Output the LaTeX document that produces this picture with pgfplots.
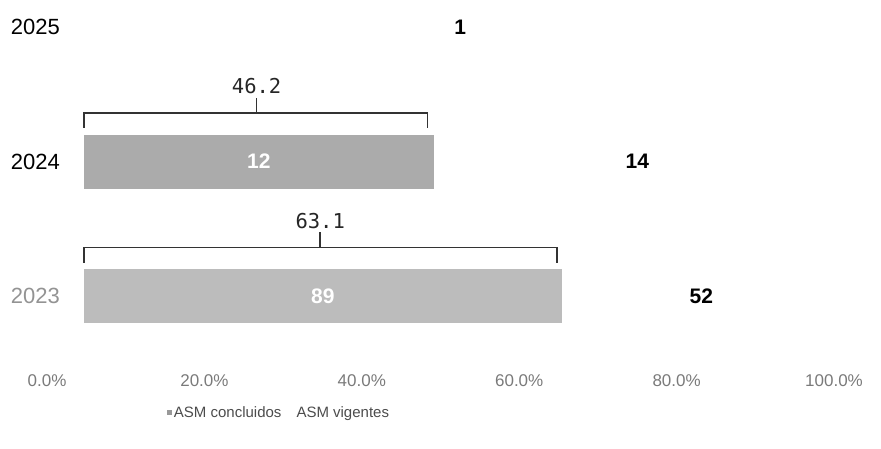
\documentclass[border=0pt]{standalone}
\usepackage{fontspec}
\setmainfont{Liberation Sans}
\newfontfamily\monofont{DejaVu Sans Mono}
\usepackage{pgfplots}
\pgfplotsset{compat=1.18}
\definecolor{barA}{HTML}{BCBCBC}
\definecolor{barB}{HTML}{ABABAB}
\definecolor{ticktext}{HTML}{7A7A7A}
\definecolor{brk}{HTML}{333333}
\begin{document}
\begin{tikzpicture}
\path[use as bounding box] (0,0) rectangle (881pt,-449pt);
\pgfplotsset{base/.style={scale only axis, width=757pt, height=363.15pt,
  at={(84pt,-363.25pt)}, anchor=south west, xmin=0, xmax=100, ymin=-0.5, ymax=2.2,
  axis line style={draw=none}, major tick length=0pt, clip=false}}
% bars
\begin{axis}[base, xbar stacked, bar width=54pt,
  xtick=\empty, ytick={0,1,2},
  yticklabels={{\textcolor{gray!85}{2023}},2024,2025},
  yticklabel style={anchor=east, inner sep=0pt, xshift=-24pt, font=\fontsize{22}{26}\selectfont},
  legend style={at={(0.2576,-0.137)}, anchor=center, draw=none, fill=none,
    font=\fontsize{15}{17}\selectfont, text=black!70, legend columns=2,
    /tikz/every even column/.append style={column sep=6pt}},
]
\addplot[fill=barA, draw=none, forget plot] coordinates {(63.1,0) (0,1) (0,2)};
\addplot[fill=barB, draw=none, legend image code/.code={\fill[gray!80] (0pt,-2pt) rectangle (5pt,3pt);}] coordinates {(0,0) (46.2,1) (0,2)};
\addplot[fill=white, draw=none, legend image code/.code={\fill[white] (0pt,-2pt) rectangle (5pt,3pt);}] coordinates {(36.9,0) (53.8,1) (100,2)};
\legend{ASM concluidos, ASM vigentes}
\end{axis}
% labels and brackets
\begin{axis}[base, hide axis]
\addplot[draw=none, mark=none, nodes near coords, point meta=explicit symbolic,
  nodes near coords style={anchor=center, text=white, font=\bfseries\fontsize{21}{25}\selectfont}]
  coordinates {(31.55,0)[89] (23.1,1)[12]};
\addplot[draw=none, mark=none, nodes near coords, point meta=explicit symbolic,
  nodes near coords style={anchor=center, text=black, font=\bfseries\fontsize{21}{25}\selectfont}]
  coordinates {(81.55,0)[52] (73.1,1)[14] (49.7,2)[1]};
\draw[brk, line width=1.6pt] ([yshift=33.5pt]axis cs:0,1) -- ([yshift=48.5pt]axis cs:0,1)
  -- ([yshift=48.5pt]axis cs:45.4,1) -- ([yshift=33.5pt]axis cs:45.4,1);
\draw[brk, line width=1.6pt] ([yshift=48.5pt]axis cs:22.8,1) -- ([yshift=63.5pt]axis cs:22.8,1)
  node[above, inner sep=3pt, text=black!85, font=\monofont\fontsize{20.5}{24}\selectfont]{46.2};
\draw[brk, line width=1.6pt] ([yshift=33.5pt]axis cs:0,0) -- ([yshift=48.5pt]axis cs:0,0)
  -- ([yshift=48.5pt]axis cs:62.5,0) -- ([yshift=33.5pt]axis cs:62.5,0);
\draw[brk, line width=1.6pt] ([yshift=48.5pt]axis cs:31.2,0) -- ([yshift=63.5pt]axis cs:31.2,0)
  node[above, inner sep=3pt, text=black!85, font=\monofont\fontsize{20.5}{24}\selectfont]{63.1};
\end{axis}
% tick labels (offset as in the reference)
\begin{axis}[scale only axis, width=787pt, height=10pt, at={(47pt,-381pt)}, anchor=south west,
  xmin=0, xmax=100, ymin=0, ymax=1, axis line style={draw=none}, major tick length=0pt,
  ytick=\empty, xtick={0,20,40,60,80,100},
  xticklabels={0.0\%,20.0\%,40.0\%,60.0\%,80.0\%,100.0\%},
  xticklabel style={anchor=center, inner sep=0pt, text=ticktext, font=\fontsize{17}{20}\selectfont}]
\addplot[draw=none, mark=none] coordinates {(0,0) (100,1)};
\end{axis}
\end{tikzpicture}
\end{document}
